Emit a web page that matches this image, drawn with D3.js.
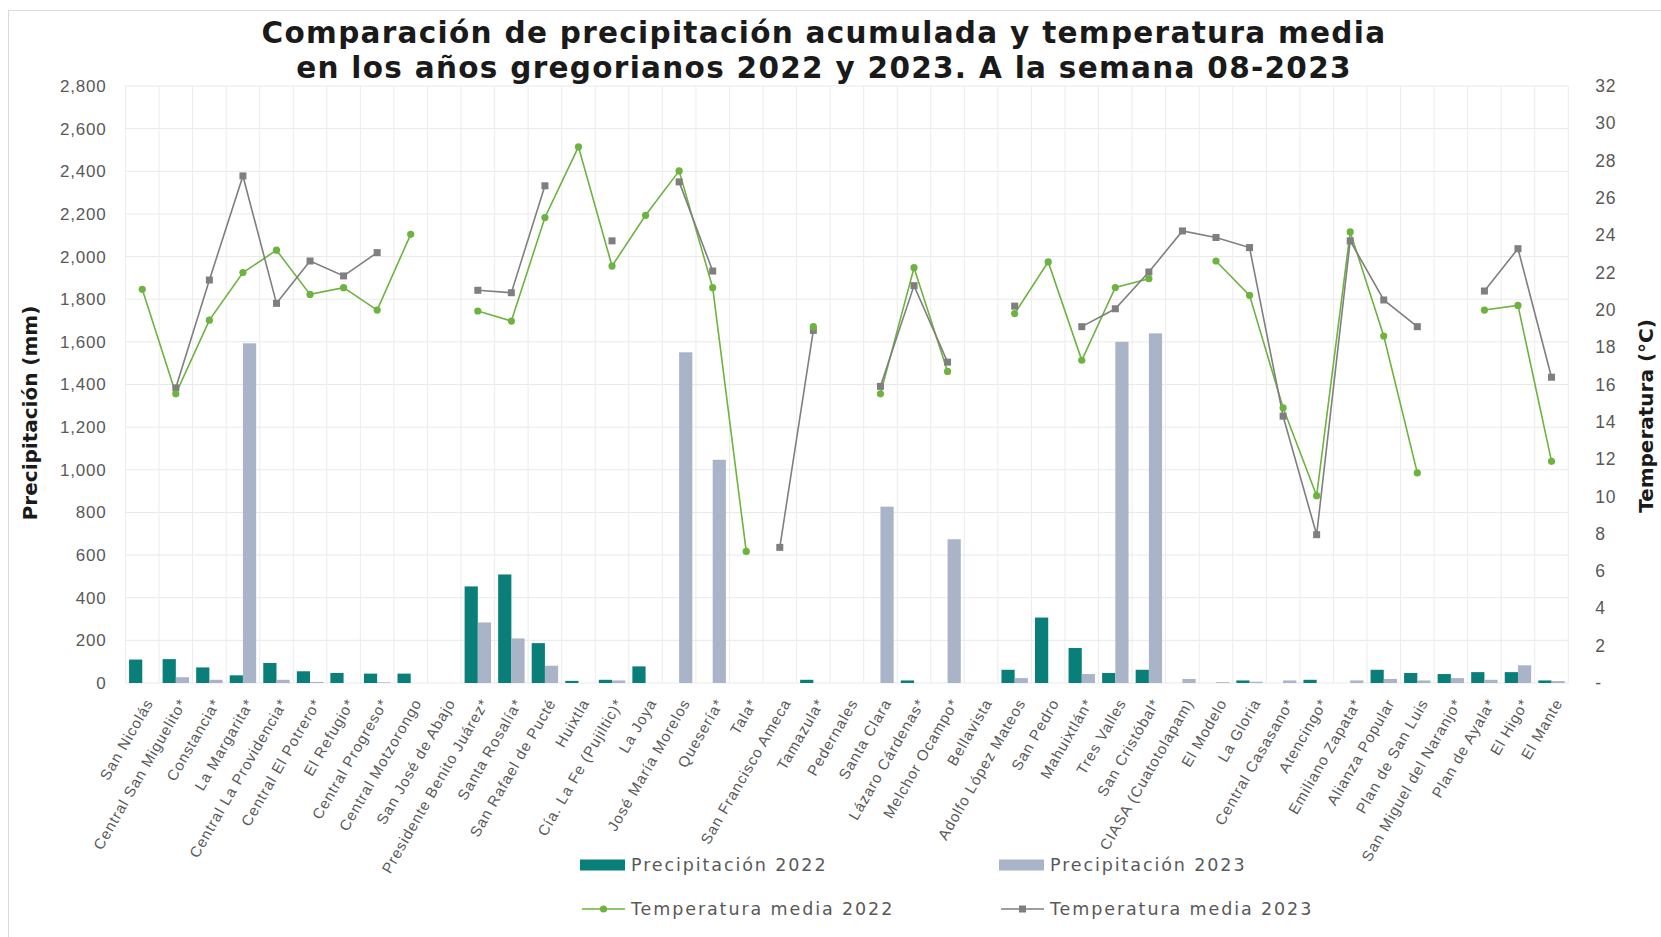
<!DOCTYPE html>
<html>
<head>
<meta charset="utf-8">
<script src="https://cdn.jsdelivr.net/npm/d3@7"></script>
<style>
  html, body { margin: 0; padding: 0; background: #fff; }
  svg { display: block; font-family: "DejaVu Sans", sans-serif; }
  .tick text { fill: #595959; }
  .axis path { display: none; }
</style>
</head>
<body>
<div id="chart"></div>
<script>
// ingenios, en el orden del eje
const categories = [
  "San Nicolás", "Central San Miguelito*", "Constancia*", "La Margarita*",
  "Central La Providencia*", "Central El Potrero*", "El Refugio*", "Central Progreso*",
  "Central Motzorongo", "San José de Abajo", "Presidente Benito Juárez*", "Santa Rosalía*",
  "San Rafael de Pucté", "Huixtla", "Cía. La Fe (Pujiltic)*", "La Joya",
  "José María Morelos", "Quesería*", "Tala*", "San Francisco Ameca", "Tamazula*",
  "Pedernales", "Santa Clara", "Lázaro Cárdenas*", "Melchor Ocampo*", "Bellavista",
  "Adolfo López Mateos", "San Pedro", "Mahuixtlán*", "Tres Valles", "San Cristóbal*",
  "CIASA (Cuatotolapam)", "El Modelo", "La Gloria", "Central Casasano*", "Atencingo*",
  "Emiliano Zapata*", "Alianza Popular", "Plan de San Luis", "San Miguel del Naranjo*",
  "Plan de Ayala*", "El Higo*", "El Mante"
];

// precipitación acumulada (mm)
const prec2022 = [110, 112, 73, 36, 94, 55, 47, 44, 44, 0, 453, 509, 187, 10, 15, 78,
  0, 0, 0, 0, 15, 0, 0, 12, 0, 0, 62, 307, 164, 47, 62, 0, 0, 12, 0, 15, 0, 62, 47, 42, 51, 51, 12];
const prec2023 = [0, 27, 15, 1593, 15, 5, 0, 3, 0, 0, 284, 209, 81, 0, 12, 0,
  1551, 1047, 0, 0, 0, 0, 827, 0, 674, 0, 23, 0, 42, 1600, 1640, 19, 4, 6, 12, 0, 12, 19, 12, 23, 15, 83, 9];

// temperatura media (°C), null = sin dato
const temp2022 = [21.1, 15.5, 19.45, 22.0, 23.2, 20.83, 21.19, 19.99, 24.05, null, 19.94, 19.4,
  24.95, 28.74, 22.35, 25.07, 27.45, 21.19, 7.05, null, 19.1, null, 15.5, 22.26, 16.7, null,
  19.8, 22.57, 17.3, 21.2, 21.67, null, 22.62, 20.78, 14.75, 10.04, 24.18, 18.6, 11.26, null,
  19.99, 20.24, 11.88];
const temp2023 = [null, 15.82, 21.6, 27.18, 20.35, 22.62, 21.82, 23.07, null, null, 21.05, 20.92,
  26.65, null, 23.7, null, 26.86, 22.08, null, 7.27, 18.9, null, 15.9, 21.3, 17.2, null,
  20.2, null, 19.1, 20.06, 22.03, 24.23, 23.88, 23.34, 14.3, 7.95, 23.7, 20.53, 19.1, null,
  21.01, 23.28, 16.39];

const precTicks = d3.range(0, 2801, 200);
const tempTicks = d3.range(0, 33, 2);

const titleLines = [
  "Comparación de precipitación acumulada y temperatura media",
  "en los años gregorianos 2022 y 2023. A la semana 08-2023"
];

class ComboChart {
  constructor() {
    this.width = 1661;
    this.height = 937;
    this.left = 125.5;
    this.right = 1568.3;
    this.top = 86;
    this.bottom = 683;

    this.xScale = d3.scaleBand()
      .domain(categories)
      .range([this.left, this.right]);

    this.xSub = d3.scaleBand()
      .domain(["p2022", "p2023"])
      .range([0, this.xScale.bandwidth()])
      .paddingOuter(0.27);

    this.yScale = d3.scaleLinear().domain([0, 2800]).range([this.bottom, this.top]);
    this.tScale = d3.scaleLinear().domain([0, 32]).range([this.bottom, this.top]);

    this.colors = { p2022: "#0a7f79", p2023: "#aab4c8", t2022: "#6db33f", t2023: "#7f7f7f" };
  }

  renderSvg(id) {
    this.svg = d3.select(id).append("svg")
      .attr("width", this.width)
      .attr("height", this.height);

    // marco del gráfico
    this.svg.append("rect")
      .attr("x", 8.5).attr("y", 10.5)
      .attr("width", this.width).attr("height", this.height)
      .attr("fill", "none")
      .attr("stroke", "#d9d9d9");
  }

  renderGrid() {
    const g = this.svg.append("g").attr("class", "grid");
    g.selectAll("line.h")
      .data(precTicks)
      .enter().append("line")
      .attr("x1", this.left).attr("x2", this.right)
      .attr("y1", d => this.yScale(d)).attr("y2", d => this.yScale(d))
      .attr("stroke", "#e9e9e9");

    const edges = categories.map(c => this.xScale(c)).concat([this.right]);
    g.selectAll("line.v")
      .data(edges)
      .enter().append("line")
      .attr("x1", d => d).attr("x2", d => d)
      .attr("y1", this.top).attr("y2", this.bottom)
      .attr("stroke", "#ececec");
  }

  renderAxis() {
    this.svg.append("g")
      .attr("class", "y axis")
      .attr("transform", "translate(" + this.left + ",0)")
      .call(d3.axisLeft(this.yScale).tickValues(precTicks).tickFormat(d3.format(",")).tickSize(0).tickPadding(19))
      .selectAll("text")
      .style("font-size", "17px")
      .style("letter-spacing", "0.8px");

    this.svg.append("g")
      .attr("class", "y2 axis")
      .attr("transform", "translate(" + this.right + ",0)")
      .call(d3.axisRight(this.tScale).tickValues(tempTicks).tickFormat(d => d === 0 ? "-" : d).tickSize(0).tickPadding(27))
      .selectAll("text")
      .style("font-size", "17.5px")
      .style("letter-spacing", "0.8px");

    const xAxis = this.svg.append("g")
      .attr("class", "x axis")
      .attr("transform", "translate(0," + this.bottom + ")")
      .call(d3.axisBottom(this.xScale).tickSize(0));

    xAxis.selectAll("text")
      .attr("x", 0).attr("y", 0)
      .attr("dy", "0.35em")
      .attr("text-anchor", "end")
      .attr("transform", "translate(7,17) rotate(-60)")
      .style("font-size", "15px")
      .style("letter-spacing", "1px");
  }

  renderLabels() {
    this.svg.append("text")
      .attr("transform", "translate(30,413) rotate(-90)")
      .attr("text-anchor", "middle")
      .attr("dy", "0.35em")
      .style("font-size", "20px")
      .style("font-weight", "bold")
      .attr("fill", "#1a1a1a")
      .text("Precipitación (mm)");

    this.svg.append("text")
      .attr("transform", "translate(1646,416) rotate(-90)")
      .attr("text-anchor", "middle")
      .attr("dy", "0.35em")
      .style("font-size", "20px")
      .style("font-weight", "bold")
      .attr("fill", "#1a1a1a")
      .text("Temperatura (°C)");

    this.svg.selectAll("text.title")
      .data(titleLines)
      .enter().append("text")
      .attr("class", "title")
      .attr("x", 824)
      .attr("y", (d, i) => 43 + i * 35)
      .attr("text-anchor", "middle")
      .style("font-size", "29.5px")
      .style("font-weight", "bold")
      .style("letter-spacing", "1.3px")
      .attr("fill", "#1a1a1a")
      .text(d => d);
  }

  renderBars() {
    const self = this;
    const rows = categories.map((c, i) => ({ cat: c, p2022: prec2022[i], p2023: prec2023[i] }));

    this.svg.append("g").selectAll("g")
      .data(rows)
      .enter().append("g")
      .attr("transform", d => "translate(" + self.xScale(d.cat) + ",0)")
      .selectAll("rect")
      .data(d => ["p2022", "p2023"].map(k => ({ key: k, value: d[k] })))
      .enter().append("rect")
      .attr("x", d => self.xSub(d.key))
      .attr("width", self.xSub.bandwidth())
      .attr("y", d => self.yScale(d.value))
      .attr("height", d => self.bottom - self.yScale(d.value))
      .attr("fill", d => self.colors[d.key]);
  }

  renderLines() {
    const self = this;
    const cx = i => self.xScale(categories[i]) + self.xScale.bandwidth() / 2;
    const line = d3.line()
      .defined(d => d != null)
      .x((d, i) => cx(i))
      .y(d => self.tScale(d));

    this.svg.append("path")
      .datum(temp2022)
      .attr("fill", "none")
      .attr("stroke", this.colors.t2022)
      .attr("stroke-width", 1.6)
      .attr("d", line);

    this.svg.append("path")
      .datum(temp2023)
      .attr("fill", "none")
      .attr("stroke", this.colors.t2023)
      .attr("stroke-width", 1.6)
      .attr("d", line);

    const pts22 = temp2022.map((v, i) => ({ v, i })).filter(d => d.v != null);
    const pts23 = temp2023.map((v, i) => ({ v, i })).filter(d => d.v != null);

    this.svg.append("g").selectAll("rect")
      .data(pts23)
      .enter().append("rect")
      .attr("x", d => cx(d.i) - 3.5)
      .attr("y", d => self.tScale(d.v) - 3.5)
      .attr("width", 7).attr("height", 7)
      .attr("fill", this.colors.t2023);

    this.svg.append("g").selectAll("circle")
      .data(pts22)
      .enter().append("circle")
      .attr("cx", d => cx(d.i))
      .attr("cy", d => self.tScale(d.v))
      .attr("r", 3.6)
      .attr("fill", this.colors.t2022);
  }

  renderLegend() {
    const items = [
      { label: "Precipitación 2022", key: "p2022", type: "bar", x: 580, y: 865 },
      { label: "Precipitación 2023", key: "p2023", type: "bar", x: 999, y: 865 },
      { label: "Temperatura media 2022", key: "t2022", type: "circle", x: 580, y: 909 },
      { label: "Temperatura media 2023", key: "t2023", type: "square", x: 999, y: 909 }
    ];
    const g = this.svg.append("g").attr("class", "legend");
    const item = g.selectAll("g")
      .data(items)
      .enter().append("g")
      .attr("transform", d => "translate(" + d.x + "," + d.y + ")");

    item.filter(d => d.type === "bar").append("rect")
      .attr("x", 0).attr("y", -5.5)
      .attr("width", 45).attr("height", 11)
      .attr("fill", d => this.colors[d.key]);

    item.filter(d => d.type !== "bar").append("line")
      .attr("x1", 2).attr("x2", 45)
      .attr("stroke", d => this.colors[d.key])
      .attr("stroke-width", 1.6);

    item.filter(d => d.type === "circle").append("circle")
      .attr("cx", 23.5).attr("r", 3.6)
      .attr("fill", d => this.colors[d.key]);

    item.filter(d => d.type === "square").append("rect")
      .attr("x", 20).attr("y", -3.5)
      .attr("width", 7).attr("height", 7)
      .attr("fill", d => this.colors[d.key]);

    item.append("text")
      .attr("x", 51)
      .attr("dy", "0.35em")
      .style("font-size", "17.5px")
      .style("letter-spacing", "1.9px")
      .attr("fill", "#595959")
      .text(d => d.label);
  }

  render(id) {
    this.renderSvg(id);
    this.renderGrid();
    this.renderBars();
    this.renderAxis();
    this.renderLines();
    this.renderLabels();
    this.renderLegend();
  }
}

new ComboChart().render("#chart");
</script>
</body>
</html>
